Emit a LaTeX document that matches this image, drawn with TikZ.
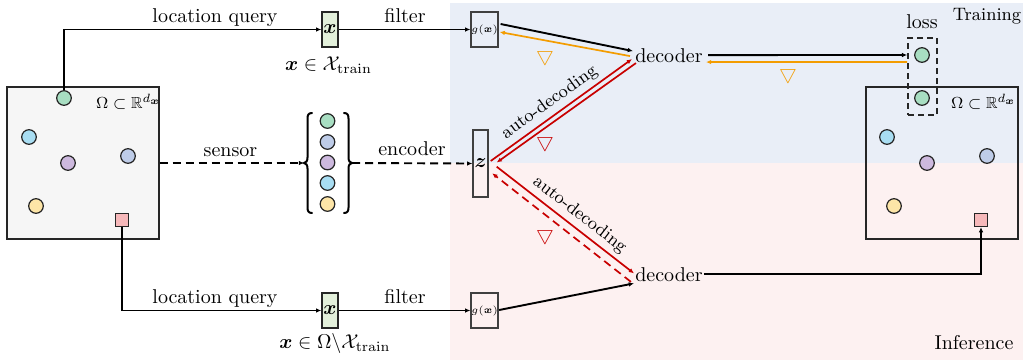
\documentclass[tikz,border=0pt]{standalone}
\usepackage{amsmath,amssymb}
\usetikzlibrary{arrows.meta,calc}
\definecolor{bgtrain}{RGB}{233,238,247}
\definecolor{bginfer}{RGB}{253,241,241}
\definecolor{domfill}{RGB}{246,246,246}
\definecolor{ptgreen}{RGB}{168,222,194}
\definecolor{ptcyan}{RGB}{168,221,242}
\definecolor{ptpurple}{RGB}{205,185,222}
\definecolor{ptblue}{RGB}{190,204,232}
\definecolor{ptyellow}{RGB}{253,229,167}
\definecolor{ptpink}{RGB}{246,184,186}
\definecolor{qfill}{RGB}{227,240,219}
\definecolor{gradred}{RGB}{200,0,0}
\definecolor{gradorange}{RGB}{243,156,0}
\begin{document}
\begin{tikzpicture}[x=0.5pt,y=-0.5pt,
  samplept/.style={circle,draw=black!85,line width=0.6pt,minimum size=7.3pt,inner sep=0pt},
  sq/.style={rectangle,draw=black!85,line width=0.6pt,minimum size=6.5pt,inner sep=0pt,fill=ptpink},
  fieldbox/.style={draw=black!85,line width=0.7pt,minimum width=76pt,minimum height=76pt,inner sep=0pt},
  qbox/.style={draw=black!85,line width=0.7pt,fill=qfill,minimum width=8pt,minimum height=17.5pt,inner sep=0pt},
  gbox/.style={draw=black!75,line width=0.7pt,minimum width=12.5pt,minimum height=17.5pt,inner sep=0pt,font=\fontsize{5.5}{6}\selectfont},
  zbox/.style={draw=black!75,line width=0.7pt,minimum width=7.5pt,minimum height=33.5pt,inner sep=0pt},
  lossbox/.style={draw=black!85,line width=0.85pt,dash pattern=on 3pt off 2pt,minimum width=14.5pt,minimum height=38.5pt,inner sep=0pt},
  dec/.style={inner sep=0pt,anchor=base},
  lbl/.style={inner sep=0pt,anchor=base},
  gradmark/.style={inner sep=0pt,font=\normalsize},
  conn/.style={line width=0.95pt,-{Latex[length=2.6pt,width=2.3pt]}},
  redconn/.style={conn,line width=0.85pt,gradred},
  orconn/.style={conn,line width=0.85pt,gradorange},
  dsh/.style={dash pattern=on 4pt off 2.5pt},
  autolbl/.style={sloped,above,inner sep=2pt,font=\small,text=black},
  bracestroke/.style={line width=1pt,line cap=round}
]
\useasboundingbox (0,0) rectangle (1023,360);

% training / inference backgrounds
\fill[bgtrain] (450,3) rectangle (1023,163);
\fill[bginfer] (450,163) rectangle (1023,360);

% input domain with sampled locations
\node[fieldbox,fill=domfill] (domL) at (83,163) {};
\node[lbl,font=\footnotesize] (omL) at (128.5,108) {$\Omega\subset\mathbb{R}^{d_{\boldsymbol{x}}}$};
\node[samplept,fill=ptgreen]  (gL) at (64,98) {};
\node[samplept,fill=ptcyan]   (cL) at (29,137) {};
\node[samplept,fill=ptpurple] (pL) at (68,163) {};
\node[samplept,fill=ptblue]   (bL) at (128,156) {};
\node[samplept,fill=ptyellow] (yL) at (36,206) {};
\node[sq] (sqL) at (122,220) {};

% output domain
\node[fieldbox] (domR) at (942,163) {};
\node[lbl,font=\footnotesize] (omR) at (983.5,108) {$\Omega\subset\mathbb{R}^{d_{\boldsymbol{x}}}$};
\node[samplept,fill=ptgreen]  (gR) at (922,98) {};
\node[samplept,fill=ptcyan]   (cR) at (887,137) {};
\node[samplept,fill=ptpurple] (pR) at (927,163) {};
\node[samplept,fill=ptblue]   (bR) at (987,156) {};
\node[samplept,fill=ptyellow] (yR) at (894,206) {};
\node[sq] (sqR) at (981,220) {};

% loss
\node[lossbox] (lossb) at (922.5,76.5) {};
\node[samplept,fill=ptgreen] (lossP) at (922,55) {};
\node[lbl] (losst) at (922,28) {loss};

% sensor readings
\node[samplept,fill=ptgreen]  (s1) at (327.5,121) {};
\node[samplept,fill=ptblue]   (s2) at (327.5,142) {};
\node[samplept,fill=ptpurple] (s3) at (327.5,162.5) {};
\node[samplept,fill=ptcyan]   (s4) at (327.5,183) {};
\node[samplept,fill=ptyellow] (s5) at (327.5,204) {};
\coordinate (braceL) at (304,163);
\coordinate (braceR) at (352,163);
\draw[bracestroke] (312,113) .. controls (308.5,113) and (307.5,115) .. (307.5,118.5) -- (307.5,157.5)
  .. controls (307.5,161) and (306,163) .. (braceL) .. controls (306,163) and (307.5,165) .. (307.5,168.5)
  -- (307.5,207.5) .. controls (307.5,211) and (308.5,213) .. (312,213);
\draw[bracestroke] (344,113) .. controls (347.5,113) and (348.5,115) .. (348.5,118.5) -- (348.5,157.5)
  .. controls (348.5,161) and (350,163) .. (braceR) .. controls (350,163) and (348.5,165) .. (348.5,168.5)
  -- (348.5,207.5) .. controls (348.5,211) and (347.5,213) .. (344,213);

% query and feature boxes
\node[qbox] (xT) at (330,29.5) {$\boldsymbol{x}$};
\node[qbox] (xB) at (330,310.5) {$\boldsymbol{x}$};
\node[gbox] (gT) at (484.5,29.5) {$g(\boldsymbol{x})$};
\node[gbox] (gB) at (484.5,310.5) {$g(\boldsymbol{x})$};
\node[zbox] (z) at (480.5,163.5) {$\boldsymbol{z}$};
\node[dec] (decT) at (669,62.7) {decoder};
\node[dec] (decB) at (669,281.7) {decoder};

% text labels
\node[lbl] (lqT) at (215,22) {location query};
\node[lbl] (fT) at (405,22) {filter};
\node[lbl] (lqB) at (215,303) {location query};
\node[lbl] (fB) at (405,303) {filter};
\node[lbl] (sens) at (230.5,156.5) {sensor};
\node[lbl] (enc) at (412,155.5) {encoder};
\node[lbl] (xtr) at (328.5,70) {$\boldsymbol{x}\in\mathcal{X}_{\mathrm{train}}$};
\node[lbl] (xte) at (335,348) {$\boldsymbol{x}\in\Omega\backslash\mathcal{X}_{\mathrm{train}}$};
\node[lbl,font=\small] (train) at (987,20) {Training};
\node[lbl] (infer) at (974,349) {Inference};

% gradient markers
\node[gradmark,text=gradorange] (n1) at (545,56) {$\bigtriangledown$};
\node[gradmark,text=gradorange] (n2) at (788,74) {$\bigtriangledown$};
\node[gradmark,text=gradred] (n3) at (545,142) {$\bigtriangledown$};
\node[gradmark,text=gradred] (n4) at (545,235) {$\bigtriangledown$};

% training path
\draw[conn] (gL.north) |- (xT.west);
\draw[conn] (xT.east) -- (gT.west);
\draw[conn] ($(gT.east)+(2,-5.5)$) -- ($(decT.west)+(-2,-4.8)$);
\draw[orconn] ($(decT.west)+(-5,0.2)$) -- ($(gT.east)+(1,2.5)$);
\draw[conn] ($(decT.east)+(5,-0.8)$) -- ($(lossb.west)+(0,-21.5)$);
\draw[orconn] ($(lossb.west)+(0,-14.5)$) -- ($(decT.east)+(3,6.2)$);

% sensing and encoding
\draw[conn,dsh] (domL.east) -- (braceL);
\draw[conn,dsh] (braceR) -- (z.west);

% auto-decoding
\draw[redconn] ($(z.east)+(2,-2.5)$) -- node[autolbl,pos=0.47] {auto-decoding} ($(decT.west)+(-3,3.2)$);
\draw[redconn] ($(decT.west)+(1,7.2)$) -- ($(z.east)+(8,-1)$);
\draw[redconn] ($(z.east)+(8,3.2)$) -- node[autolbl,pos=0.546] {auto-decoding} ($(decB.west)+(-1,-1.5)$);
\draw[redconn,dsh] ($(decB.west)+(-4,7)$) -- ($(z.east)+(3.5,9.8)$);

% inference path
\draw[conn] (sqL.south) |- (xB.west);
\draw[conn] (xB.east) -- (gB.west);
\draw[conn] ($(gB.east)+(0.5,-0.5)$) -- ($(decB.west)+(-1,8.5)$);
\draw[conn] ($(decB.east)+(1,-0.8)$) -| (sqR.south);
\end{tikzpicture}
\end{document}
